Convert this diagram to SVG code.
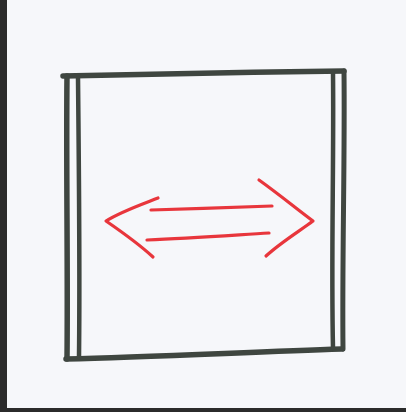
<svg xmlns="http://www.w3.org/2000/svg" width="406" height="412" viewBox="0 0 406 412">
  <style>
    .pencil { fill: none; stroke: #3f4640; stroke-linecap: round; stroke-linejoin: round; }
    .red { fill: none; stroke: #e8363c; stroke-width: 3.2; stroke-linecap: round; stroke-linejoin: round; }
  </style>
  <rect x="0" y="0" width="406" height="412" fill="#f6f7fa"/>
  <rect x="0" y="0" width="7" height="412" fill="#2b2b2b"/>
  <rect x="0" y="408" width="406" height="4" fill="#2b2b2b"/>
  <g id="box">
    <path class="pencil" stroke-width="5.5" d="M63,76 C150,74 250,72 344,71"/>
    <path class="pencil" stroke-width="5.5" d="M66,359 C150,357 250,352 342,349"/>
    <path class="pencil" stroke-width="5.5" d="M67,76 C66,170 68,270 67,359"/>
    <path class="pencil" stroke-width="4.5" d="M78,78 C79,170 80,270 79,357"/>
    <path class="pencil" stroke-width="5" d="M344,71 C345,160 342,260 343,349"/>
    <path class="pencil" stroke-width="4.5" d="M333,73 C334,160 331,260 333,348"/>
  </g>
  <g id="arrow">
    <path class="red" d="M158,198 C140,205 120,212 106,221 C122,232 140,245 153,257"/>
    <path class="red" d="M151,210 C190,209 235,207 272,206"/>
    <path class="red" d="M147,240 C190,238 235,235 269,233"/>
    <path class="red" d="M259,180 C280,195 298,210 313,221 C298,232 280,243 266,256"/>
  </g>
</svg>
